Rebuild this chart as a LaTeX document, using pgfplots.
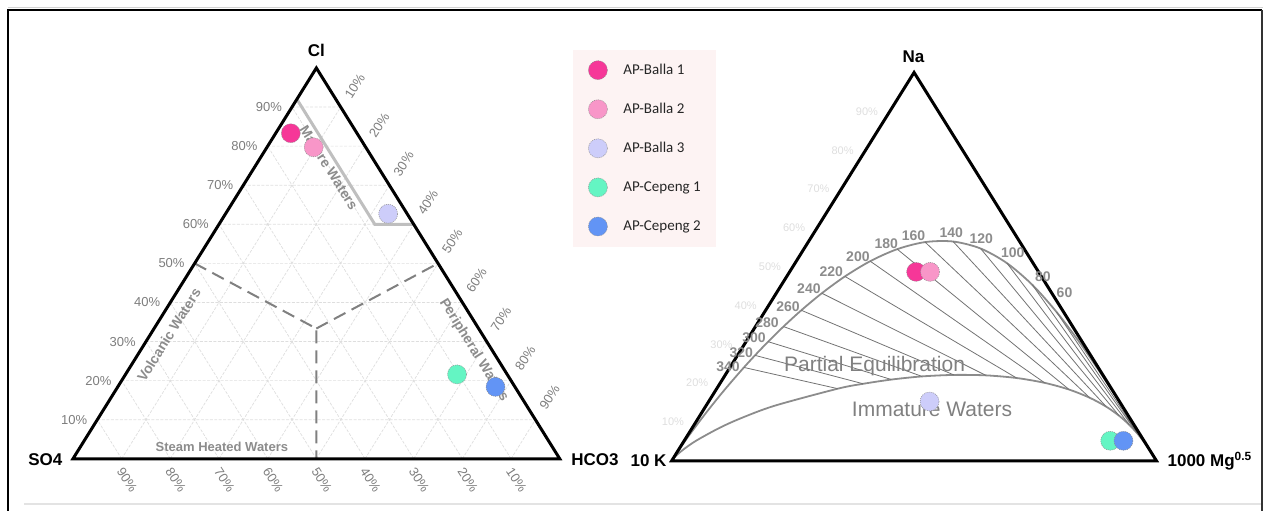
\documentclass[border=0pt]{standalone}
\usepackage{fontspec}
\setmainfont{Liberation Sans}
\newfontfamily\carlito{Carlito}
\usepackage{pgfplots}
\pgfplotsset{compat=1.18}
\definecolor{b1}{RGB}{246,55,152}
\definecolor{b2}{RGB}{248,150,200}
\definecolor{b3}{RGB}{205,205,250}
\definecolor{c1}{RGB}{100,245,195}
\definecolor{c2}{RGB}{98,148,245}
\definecolor{legbg}{RGB}{253,243,243}
\definecolor{tickgray}{RGB}{125,125,125}
\definecolor{regiongray}{RGB}{140,140,140}
\definecolor{curvegray}{RGB}{140,140,140}
\definecolor{gridgray}{RGB}{222,222,222}
\definecolor{faint}{RGB}{222,222,222}
\newcommand{\LX}{73+487*(\thisrow{h}+0.5*\thisrow{c})}
\newcommand{\LY}{459-391*\thisrow{c}}
\newcommand{\RX}{672+485*(\thisrow{mg}+0.5*\thisrow{na})}
\newcommand{\RY}{461-388.5*\thisrow{na}}
\newcommand{\fs}[1]{\fontsize{#1}{#1}\selectfont}
\tikzset{
  tk/.style={font=\fs{13}, text=tickgray, inner sep=0pt},
  rg/.style={font=\bfseries\fs{14}, text=regiongray, inner sep=0pt},
  tl/.style={font=\bfseries\fs{14}, text=curvegray, inner sep=0pt},
  fl/.style={font=\fs{11}, text=faint, inner sep=0pt},
  cn/.style={font=\bfseries\fs{17}, text=black, inner sep=0pt},
  dot/.style={only marks, mark=*, mark size=9.5pt, mark options={fill=#1, draw=black!45, line width=0.5pt, dash pattern=on 1pt off 1pt}},
}
\begin{document}
\begin{tikzpicture}
\begin{axis}[
  scale only axis, width=1264pt, height=511pt,
  xmin=0, xmax=1264, ymin=0, ymax=511, y dir=reverse,
  hide axis, clip=false,
  legend style={at={(axis cs:573,49.5)}, anchor=north west, draw=none, fill=legbg,
    inner xsep=15.5pt, inner ysep=11pt, row sep=20.1pt,
    font=\carlito\fs{15}, text=black!85, nodes={inner sep=0pt},
    /tikz/every odd column/.append style={column sep=16pt}},
  legend cell align=left,
  legend image code/.code={\draw[#1] plot coordinates {(0pt,0pt)};},
]
% frame
\addplot[forget plot, draw=none] coordinates {(0,0) (1264,511)};
\addplot[forget plot, gray!35, line width=1.2pt] coordinates {(8,7.6) (1264,7.6)};
\addplot[forget plot, black, line width=2pt] coordinates {(8.5,511) (8.5,10) (1262.5,10)};
\addplot[forget plot, black!80, line width=1.2pt] coordinates {(1262.6,10) (1262.6,511)};
\addplot[forget plot, gray!22, line width=1.5pt] coordinates {(24,504) (1262,504)};

% ===== left ternary: Cl - SO4 - HCO3 =====
\addplot[forget plot, gridgray, line width=0.7pt, dash pattern=on 3pt off 1.5pt, empty line=jump] table[x expr=\LX, y expr=\LY] {
c h
0.1 0
0.1 0.9

0.2 0
0.2 0.8

0.3 0
0.3 0.7

0.4 0
0.4 0.6

0.5 0
0.5 0.5

0.6 0
0.6 0.4

0.7 0
0.7 0.3

0.8 0
0.8 0.2

0.9 0
0.9 0.1

0 0.1
0.9 0.1

0 0.2
0.8 0.2

0 0.3
0.7 0.3

0 0.4
0.6 0.4

0 0.5
0.5 0.5

0 0.6
0.4 0.6

0 0.7
0.3 0.7

0 0.8
0.2 0.8

0 0.9
0.1 0.9

0 0.9
0.9 0

0 0.8
0.8 0

0 0.7
0.7 0

0 0.6
0.6 0

0 0.5
0.5 0

0 0.4
0.4 0

0 0.3
0.3 0

0 0.2
0.2 0

0 0.1
0.1 0
};
% mature waters boundary
\addplot[forget plot, gray!50, line width=3pt] table[x expr=\LX, y expr=\LY] {
c h
0.92 0
0.60 0.32
0.60 0.40
};
% dashed field boundaries
\addplot[forget plot, black!50, line width=2pt, dash pattern=on 13pt off 7pt, empty line=jump] table[x expr=\LX, y expr=\LY] {
c h
0.5 0
0.3333 0.3333
0 0.5

0.3333 0.3333
0.5 0.5
};
% triangle
\addplot[forget plot, black, line width=3pt, line join=miter] table[x expr=\LX, y expr=\LY] {
c h
0 0
1 0
0 1
0 0
1 0
};
% labels left triangle
\node[cn] at (axis cs:316.5,50.5) {Cl};
\node[cn, anchor=east] at (axis cs:62.5,460) {SO4};
\node[cn, anchor=west] at (axis cs:571.5,460) {HCO3};
\node[tk, anchor=east] at (axis cs:87.4,419.9) {10\%};
\node[tk, anchor=east] at (axis cs:111.7,380.8) {20\%};
\node[tk, anchor=east] at (axis cs:136.0,341.7) {30\%};
\node[tk, anchor=east] at (axis cs:160.4,302.6) {40\%};
\node[tk, anchor=east] at (axis cs:184.8,263.5) {50\%};
\node[tk, anchor=east] at (axis cs:209.1,224.4) {60\%};
\node[tk, anchor=east] at (axis cs:233.5,185.3) {70\%};
\node[tk, anchor=east] at (axis cs:257.8,146.2) {80\%};
\node[tk, anchor=east] at (axis cs:282.2,107.1) {90\%};
\node[tk, rotate=57] at (axis cs:355.0,86.5) {10\%};
\node[tk, rotate=57] at (axis cs:379.4,125.0) {20\%};
\node[tk, rotate=57] at (axis cs:403.8,163.8) {30\%};
\node[tk, rotate=57] at (axis cs:428.1,202.6) {40\%};
\node[tk, rotate=57] at (axis cs:452.5,241.5) {50\%};
\node[tk, rotate=57] at (axis cs:476.8,280.4) {60\%};
\node[tk, rotate=57] at (axis cs:501.2,319.4) {70\%};
\node[tk, rotate=57] at (axis cs:525.5,358.3) {80\%};
\node[tk, rotate=57] at (axis cs:549.9,397.2) {90\%};
\node[tk, rotate=-57] at (axis cs:127.2,480) {90\%};
\node[tk, rotate=-57] at (axis cs:175.9,480) {80\%};
\node[tk, rotate=-57] at (axis cs:224.6,480) {70\%};
\node[tk, rotate=-57] at (axis cs:273.3,480) {60\%};
\node[tk, rotate=-57] at (axis cs:322.0,480) {50\%};
\node[tk, rotate=-57] at (axis cs:370.7,480) {40\%};
\node[tk, rotate=-57] at (axis cs:419.4,480) {30\%};
\node[tk, rotate=-57] at (axis cs:468.1,480) {20\%};
\node[tk, rotate=-57] at (axis cs:516.8,480) {10\%};
\node[rg, rotate=-57.6] at (axis cs:329,168) {Mature Waters};
\node[rg, rotate=-58] at (axis cs:474,350.5) {Peripheral Waters};
\node[rg, rotate=58] at (axis cs:169,335) {Volcanic Waters};
\node[rg, font=\bfseries\fs{13}] at (axis cs:222,446.7) {Steam Heated Waters};

% ===== right ternary: Na - 10K - 1000 Mg^0.5 =====
\addplot[forget plot, curvegray, line width=1.8pt, smooth] table[x expr=\RX, y expr=\RY] {
na mg
0 0
0.0265 0.0007
0.0455 0.0018
0.0648 0.0031
0.0998 0.0064
0.1282 0.0097
0.1685 0.0154
0.2006 0.0209
0.2404 0.0288
0.2715 0.0361
0.3067 0.0456
0.3456 0.0578
0.3876 0.0736
0.4315 0.0940
0.4748 0.1200
0.5140 0.1525
0.5450 0.1927
0.5632 0.2411
0.5647 0.2981
0.5467 0.3638
0.5089 0.4372
0.4531 0.5174
0.3832 0.6023
0.3056 0.6882
0.2272 0.7704
0.1558 0.8435
0.0969 0.9029
0 1
};
\addplot[forget plot, curvegray, line width=1.8pt, smooth] table[x expr=\RX, y expr=\RY] {
na mg
0 0
0.0099 0.0017
0.0174 0.0042
0.0303 0.0103
0.0519 0.0247
0.0857 0.0573
0.1124 0.0921
0.1425 0.1430
0.1857 0.2498
0.1983 0.2960
0.2092 0.3487
0.2173 0.4077
0.2211 0.4715
0.2200 0.5380
0.2132 0.6048
0.2007 0.6691
0.1833 0.7284
0.1623 0.7812
0.1393 0.8268
0.1157 0.8654
0.0928 0.8974
0.0719 0.9235
0.0534 0.9447
0.0425 0.9565
0.0252 0.9745
0 1
};
% isotherms 60..340
\addplot[forget plot, black!55, line width=0.8pt, empty line=jump] table[x expr=\RX, y expr=\RY] {
na mg
0.3832 0.6023
0.0534 0.9447

0.4531 0.5174
0.0719 0.9235

0.5089 0.4372
0.0928 0.8974

0.5467 0.3638
0.1157 0.8654

0.5647 0.2981
0.1393 0.8268

0.5632 0.2411
0.1623 0.7812

0.5450 0.1927
0.1833 0.7284

0.5140 0.1525
0.2007 0.6691

0.4748 0.1200
0.2132 0.6048

0.4315 0.0940
0.2200 0.5380

0.3876 0.0736
0.2211 0.4715

0.3456 0.0578
0.2173 0.4077

0.3067 0.0456
0.2092 0.3487

0.2715 0.0361
0.1983 0.2960

0.2404 0.0288
0.1857 0.2498
};
\addplot[forget plot, black, line width=3pt, line join=miter] table[x expr=\RX, y expr=\RY] {
na mg
0 0
1 0
0 1
0 0
1 0
};
\node[cn] at (axis cs:914,57) {Na};
\node[cn, anchor=east] at (axis cs:667,461) {10 K};
\node[cn, anchor=west] at (axis cs:1168,461) {1000 Mg\textsuperscript{0.5}};
\node[tl] at (axis cs:728.3,366.7) {340};
\node[tl] at (axis cs:741.7,352.7) {320};
\node[tl] at (axis cs:754.3,338.3) {300};
\node[tl] at (axis cs:767.3,322.7) {280};
\node[tl] at (axis cs:788.3,306.7) {260};
\node[tl] at (axis cs:809.3,289.3) {240};
\node[tl] at (axis cs:831.7,271.7) {220};
\node[tl] at (axis cs:858.3,257.3) {200};
\node[tl] at (axis cs:886.7,243.3) {180};
\node[tl] at (axis cs:914.0,235.5) {160};
\node[tl] at (axis cs:951.7,232.3) {140};
\node[tl] at (axis cs:981.7,238.3) {120};
\node[tl] at (axis cs:1013.3,252.7) {100};
\node[tl] at (axis cs:1043.3,276.7) {80};
\node[tl] at (axis cs:1065.0,293.3) {60};
\node[fl] at (axis cs:867.3,111.4) {90\%};
\node[fl] at (axis cs:843.0,150.3) {80\%};
\node[fl] at (axis cs:818.8,189.2) {70\%};
\node[fl] at (axis cs:794.5,228.0) {60\%};
\node[fl] at (axis cs:770.3,266.8) {50\%};
\node[fl] at (axis cs:746.0,305.6) {40\%};
\node[fl] at (axis cs:721.8,344.5) {30\%};
\node[fl] at (axis cs:697.5,383.3) {20\%};
\node[fl] at (axis cs:673.3,422.2) {10\%};
\node[font=\fs{21}, text=black!50, inner sep=0pt] at (axis cs:875,366.7) {Partial Equilibration};
\node[font=\fs{21}, text=black!50, inner sep=0pt] at (axis cs:932.5,410) {Immature Waters};

% ===== samples =====
\addplot[dot=b1] table[x expr=\LX, y expr=\LY] {
c h
0.833 0.031
};
\addlegendentry{AP-Balla 1}
\addplot[dot=b2] table[x expr=\LX, y expr=\LY] {
c h
0.797 0.096
};
\addlegendentry{AP-Balla 2}
\addplot[dot=b3] table[x expr=\LX, y expr=\LY] {
c h
0.627 0.334
};
\addlegendentry{AP-Balla 3}
\addplot[dot=c1] table[x expr=\LX, y expr=\LY] {
c h
0.216 0.681
};
\addlegendentry{AP-Cepeng 1}
\addplot[dot=c2] table[x expr=\LX, y expr=\LY] {
c h
0.184 0.776
};
\addlegendentry{AP-Cepeng 2}
\addplot[forget plot, dot=b1] table[x expr=\RX, y expr=\RY] {
na mg
0.4865 0.2609
};
\addplot[forget plot, dot=b2] table[x expr=\RX, y expr=\RY] {
na mg
0.4865 0.2897
};
\addplot[forget plot, dot=b3] table[x expr=\RX, y expr=\RY] {
na mg
0.1526 0.4557
};
\addplot[forget plot, dot=c1] table[x expr=\RX, y expr=\RY] {
na mg
0.0515 0.8788
};
\addplot[forget plot, dot=c2] table[x expr=\RX, y expr=\RY] {
na mg
0.0515 0.9062
};
\end{axis}
\end{tikzpicture}
\end{document}
